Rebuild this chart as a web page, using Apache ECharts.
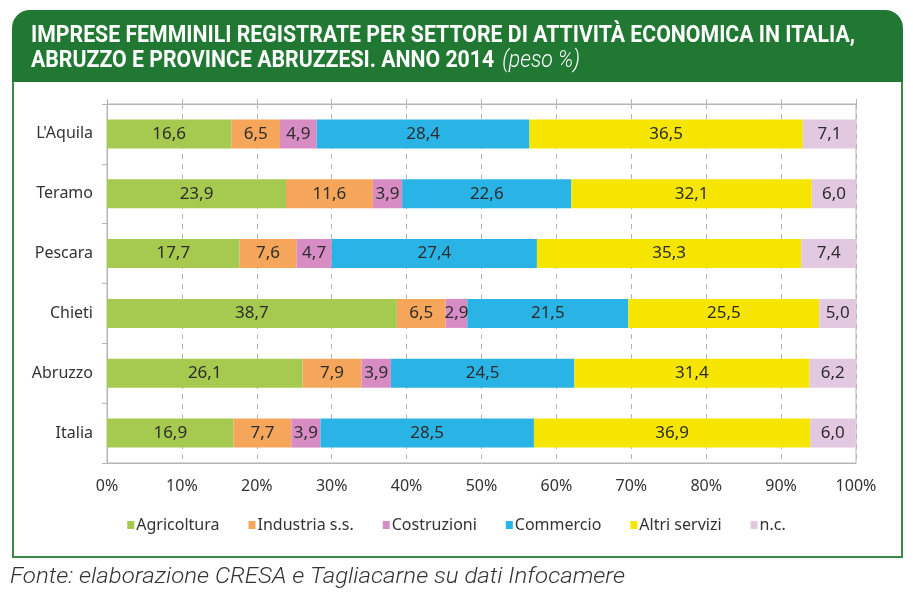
<!DOCTYPE html>
<html>
<head>
<meta charset="utf-8">
<script src="https://cdn.jsdelivr.net/npm/echarts@6/dist/echarts.min.js"></script>
<style>
html,body{margin:0;padding:0;background:#fff;}
#chart{width:913px;height:595px;}
</style>
</head>
<body>
<div id="chart"></div>
<script>
const categories = ["L'Aquila", "Teramo", "Pescara", "Chieti", "Abruzzo", "Italia"];
const seriesNames = ["Agricoltura", "Industria s.s.", "Costruzioni", "Commercio", "Altri servizi", "n.c."];
const agricoltura = [16.6, 23.9, 17.7, 38.7, 26.1, 16.9];
const industria = [6.5, 11.6, 7.6, 6.5, 7.9, 7.7];
const costruzioni = [4.9, 3.9, 4.7, 2.9, 3.9, 3.9];
const commercio = [28.4, 22.6, 27.4, 21.5, 24.5, 28.5];
const altriServizi = [36.5, 32.1, 35.3, 25.5, 31.4, 36.9];
const nc = [7.1, 6.0, 7.4, 5.0, 6.2, 6.0];
const xTickValues = [0, 10, 20, 30, 40, 50, 60, 70, 80, 90, 100];

const titleLine1 = "IMPRESE FEMMINILI REGISTRATE PER SETTORE DI ATTIVITÀ ECONOMICA IN ITALIA,";
const titleLine2 = "ABRUZZO E PROVINCE ABRUZZESI. ANNO 2014";
const titleUnit = "(peso %)";
const sourceText = "Fonte: elaborazione CRESA e Tagliacarne su dati Infocamere";

const colors = ["#a6c94f", "#f5a65b", "#d78cc4", "#2ab4e5", "#f6e500", "#e2c9e1"];
const values = [agricoltura, industria, costruzioni, commercio, altriServizi, nc];

const mctx = document.createElement('canvas').getContext('2d');
function measure(text, font) { mctx.font = font; return mctx.measureText(text).width; }

const titleFont = "bold 24px 'Roboto', sans-serif";
const titleScale = 824 / measure(titleLine1, titleFont);
const unitFont = "italic 300 24px 'Roboto', sans-serif";
const line2W = measure(titleLine2, titleFont) * titleScale;
const srcFont = "italic 300 22px 'Roboto', sans-serif";
const srcScale = 615 / measure(sourceText, srcFont);

const chart = echarts.init(document.getElementById('chart'), null, {renderer: 'canvas'});

const labelFmt = p => p.value.toFixed(1).replace('.', ',');
const FONT = "'Noto Sans', sans-serif";

chart.setOption({
  animation: false,
  backgroundColor: '#fff',
  textStyle: {fontFamily: FONT},
  graphic: [
    {type: 'rect', z: -10, shape: {x: 13, y: 78, width: 889, height: 479}, style: {fill: '#fff', stroke: '#3d8a46', lineWidth: 2}},
    {type: 'rect', z: -9, shape: {x: 12, y: 10, width: 891, height: 72, r: [18, 18, 0, 0]}, style: {fill: '#217833'}},
    {type: 'text', z: 10, x: 31, y: 36, scaleX: titleScale, style: {text: titleLine1, font: titleFont, fill: '#fff', verticalAlign: 'middle'}},
    {type: 'text', z: 10, x: 31, y: 61, scaleX: titleScale, style: {text: titleLine2, font: titleFont, fill: '#fff', verticalAlign: 'middle'}},
    {type: 'text', z: 10, x: 31 + line2W + 8, y: 61, scaleX: titleScale, style: {text: titleUnit, font: unitFont, fill: '#fff', verticalAlign: 'middle'}},
    {type: 'text', z: 10, x: 10, y: 577, scaleX: srcScale, style: {text: sourceText, font: srcFont, fill: '#333', verticalAlign: 'middle'}}
  ],
  legend: {
    data: seriesNames,
    top: 512,
    left: 'center',
    icon: 'rect',
    itemWidth: 7,
    itemHeight: 8,
    itemGap: 29,
    textStyle: {fontSize: 16, color: '#333', padding: [0, 0, 0, -3], fontFamily: FONT}
  },
  grid: {left: 107, right: 57, top: 104, bottom: 132, show: true, borderColor: '#b5b5b5', borderWidth: 1},
  xAxis: [
    {
      type: 'value', min: 0, max: 100, interval: 10, position: 'bottom',
      axisLine: {show: true, lineStyle: {color: '#b5b5b5'}},
      axisTick: {show: false},
      axisLabel: {formatter: v => xTickValues.includes(v) ? v + '%' : '', fontSize: 16, color: '#333', margin: 15, fontFamily: FONT},
      splitLine: {show: true, lineStyle: {color: '#b5b5b5', type: [5, 5], width: 1}}
    },
    {
      type: 'value', min: 0, max: 100, interval: 10, position: 'top',
      axisLine: {show: true, lineStyle: {color: '#b5b5b5'}},
      axisTick: {show: true, length: 5, lineStyle: {color: '#b5b5b5'}},
      axisLabel: {show: false},
      splitLine: {show: false}
    }
  ],
  yAxis: {
    type: 'category', data: categories, inverse: true,
    axisLine: {show: true, lineStyle: {color: '#b5b5b5'}},
    axisTick: {show: true, length: 5, lineStyle: {color: '#b5b5b5'}},
    axisLabel: {fontSize: 16, color: '#333', margin: 14, fontFamily: FONT}
  },
  series: seriesNames.map((name, i) => ({
    name: name,
    type: 'bar',
    stack: 'total',
    barWidth: 29,
    data: values[i],
    itemStyle: {color: colors[i]},
    label: {show: true, position: 'inside', formatter: labelFmt, fontSize: 17, color: '#2d2d2d', fontFamily: FONT}
  }))
});
</script>
</body>
</html>
